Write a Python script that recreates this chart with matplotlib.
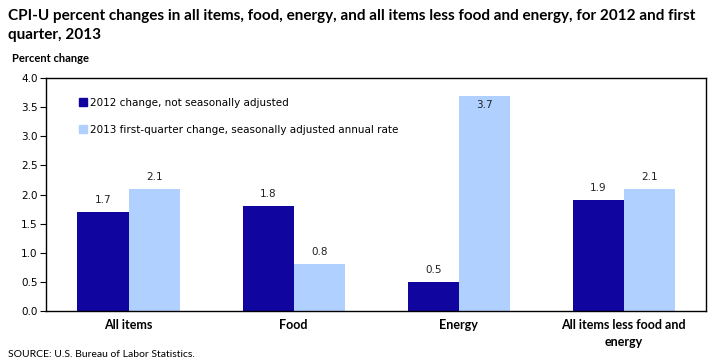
import numpy as np
from matplotlib import pyplot as plt
from matplotlib.patches import Patch

categorias = ["All items", "Food", "Energy", "All items less food and\nenergy"]
cambio_2012 = [1.7, 1.8, 0.5, 1.9]
cambio_2013q1 = [2.1, 0.8, 3.7, 2.1]
etiquetas_series = ["2012 change, not seasonally adjusted",
                    "2013 first-quarter change, seasonally adjusted annual rate"]

color_oscuro = "#10069F"
color_claro = "#B0D0FF"

fig = plt.figure(figsize=(7.2, 3.63), dpi=100)
ax = fig.add_axes([0.064, 0.143, 0.917, 0.642])

x = np.arange(len(categorias))
ancho = 0.31
b1 = ax.bar(x - ancho / 2, cambio_2012, ancho, color=color_oscuro)
b2 = ax.bar(x + ancho / 2, cambio_2013q1, ancho, color=color_claro)

fuente_num = "DejaVu Sans"
for barras in (b1, b2):
    for r in barras:
        h = r.get_height()
        if h > 3.5:
            y, va = h - 0.08, "top"
        else:
            y, va = h + 0.12, "bottom"
        ax.text(r.get_x() + r.get_width() / 2, y, f"{h:.1f}", ha="center", va=va,
                fontsize=7.5, family=fuente_num, color="#222222")

ax.set_xlim(-0.5, len(categorias) - 0.5)
ax.set_ylim(0, 4.0)
ax.set_yticks(np.arange(0, 4.01, 0.5))
ax.set_yticklabels([f"{v:.1f}" for v in np.arange(0, 4.01, 0.5)], family=fuente_num, fontsize=7.5)
ax.set_xticks(x)
ax.set_xticklabels(categorias, family="Lato", fontweight="bold", fontsize=9,
                   multialignment="center", linespacing=1.45)
ax.tick_params(axis="x", length=0, pad=6)
ax.tick_params(axis="y", length=4, width=0.8, pad=2)
for s in ax.spines.values():
    s.set_linewidth(1.0)

handles = [Patch(color=color_oscuro), Patch(color=color_claro)]
ax.legend(handles, etiquetas_series, loc="upper left", bbox_to_anchor=(0.035, 0.955),
          frameon=False, prop={"family": fuente_num, "size": 7.5},
          handlelength=0.8, handleheight=0.8, handletextpad=0.3, labelspacing=1.65)

fig.text(0.011, 0.975, "CPI-U percent changes in all items, food, energy, and all items less food and energy, for 2012 and first\nquarter, 2013",
         family="Lato", fontweight="bold", fontsize=11, va="top", ha="left", linespacing=1.45)
fig.text(0.017, 0.825, "Percent change", family="Lato", fontweight="bold", fontsize=8, va="bottom")
fig.text(0.011, 0.01, "SOURCE: U.S. Bureau of Labor Statistics.", family="Lato", fontsize=7.5, va="bottom")

plt.savefig("out.png", dpi=100)
